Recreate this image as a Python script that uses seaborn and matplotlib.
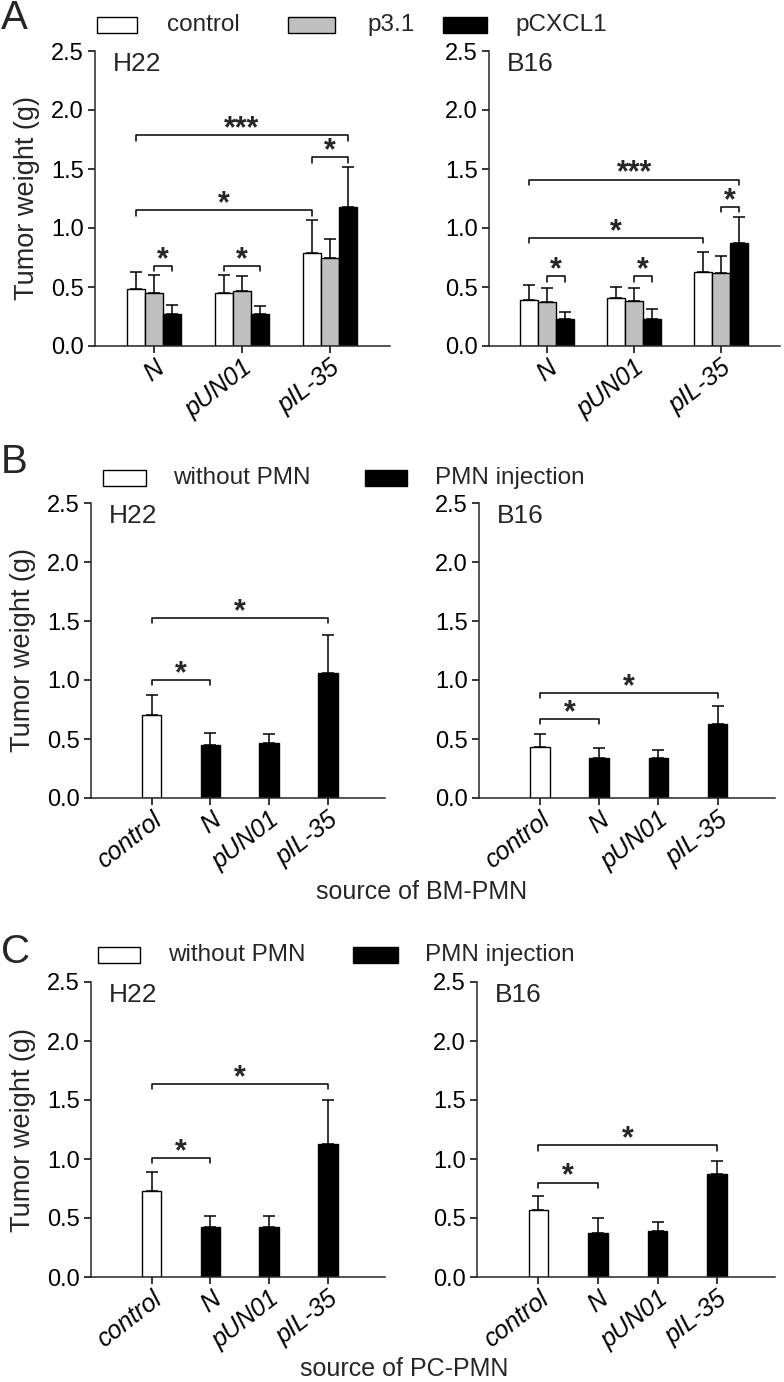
import matplotlib
matplotlib.use('Agg')
import matplotlib.pyplot as plt
from matplotlib.patches import Rectangle
import numpy as np
import pandas as pd
import seaborn as sns

# ---- data ----
a_groups = ['N', 'pUN01', 'pIL-35']
a_hues = ['control', 'p3.1', 'pCXCL1']
a_h22_mean = [[0.48, 0.45, 0.27], [0.45, 0.47, 0.27], [0.79, 0.75, 1.18]]
a_h22_err = [[0.15, 0.15, 0.08], [0.15, 0.12, 0.07], [0.28, 0.16, 0.34]]
a_b16_mean = [[0.39, 0.37, 0.23], [0.41, 0.38, 0.23], [0.63, 0.62, 0.87]]
a_b16_err = [[0.13, 0.12, 0.06], [0.09, 0.11, 0.08], [0.17, 0.14, 0.22]]

bc_groups = ['control', 'N', 'pUN01', 'pIL-35']
bc_conds = ['without PMN', 'PMN injection', 'PMN injection', 'PMN injection']
b_h22_mean = [0.70, 0.45, 0.47, 1.06]
b_h22_err = [0.17, 0.10, 0.075, 0.32]
b_b16_mean = [0.43, 0.34, 0.34, 0.63]
b_b16_err = [0.11, 0.08, 0.07, 0.15]
c_h22_mean = [0.73, 0.42, 0.42, 1.13]
c_h22_err = [0.16, 0.10, 0.10, 0.37]
c_b16_mean = [0.57, 0.37, 0.39, 0.87]
c_b16_err = [0.12, 0.13, 0.08, 0.115]

# significance brackets: (bar i, bar j, height, label)
a_h22_sig = [(0, 8, 1.785, '***'), (0, 6, 1.15, '*'), (6, 8, 1.60, '*'),
             (1, 2, 0.68, '*'), (3, 5, 0.68, '*')]
a_b16_sig = [(0, 8, 1.41, '***'), (0, 6, 0.915, '*'), (7, 8, 1.18, '*'),
             (1, 2, 0.59, '*'), (4, 5, 0.59, '*')]
b_h22_sig = [(0, 3, 1.525, '*'), (0, 1, 1.0, '*')]
b_b16_sig = [(0, 3, 0.89, '*'), (0, 1, 0.67, '*')]
c_h22_sig = [(0, 3, 1.635, '*'), (0, 1, 1.01, '*')]
c_b16_sig = [(0, 3, 1.115, '*'), (0, 1, 0.80, '*')]

sns.set_style('ticks')
plt.rcParams['font.family'] = ['Liberation Sans', 'DejaVu Sans']
plt.rcParams['axes.linewidth'] = 1.1

hue_colors = {'control': 'white', 'p3.1': '#c0c0c0', 'pCXCL1': 'black',
              'without PMN': 'white', 'PMN injection': 'black'}

W, H = 784, 1382
fig = plt.figure(figsize=(W / 100, H / 100), dpi=100)


def add_ax(left, right, zero_y):
    # pixel box -> figure fraction, 2.5 g spans 295 px
    return fig.add_axes([left / W, 1 - zero_y / H, (right - left) / W, 295 / H])


def style_ax(ax, label, ylabel):
    ax.set_ylim(0, 2.5)
    ax.set_yticks([0, 0.5, 1.0, 1.5, 2.0, 2.5])
    ax.set_yticklabels(['0.0', '0.5', '1.0', '1.5', '2.0', '2.5'])
    sns.despine(ax=ax)
    ax.tick_params(axis='both', direction='out', length=5, width=1.1,
                   labelsize=17, colors='black')
    ax.tick_params(axis='y', pad=3)
    ax.tick_params(axis='x', pad=2)
    for t in ax.get_xticklabels():
        t.set_rotation(38)
        t.set_ha('right')
        t.set_rotation_mode('anchor')
        t.set_fontstyle('italic')
        t.set_fontsize(18)
    ax.set_xlabel('')
    ax.set_ylabel('Tumor weight (g)' if ylabel else '', fontsize=19.5, labelpad=8)
    ax.text(0.06, 0.995, label, transform=ax.transAxes, fontsize=19,
            va='top', ha='left')


def bar_centers(ax):
    bars = sorted(ax.patches, key=lambda p: p.get_x())
    xs = [p.get_x() + p.get_width() / 2 for p in bars]
    ys = [p.get_height() for p in bars]
    return xs, ys


def draw_errs(ax, xs, ys, errs):
    ax.errorbar(xs, ys, yerr=[np.zeros(len(errs)), errs], fmt='none',
                ecolor='black', elinewidth=1.1, capsize=4.5, capthick=1.1, zorder=1)


def draw_sig(ax, xs, sig):
    for i, j, y, lab in sig:
        ax.plot([xs[i], xs[i], xs[j], xs[j]], [y - 0.045, y, y, y - 0.045],
                color='black', lw=1.1)
        ax.text((xs[i] + xs[j]) / 2, y + 0.05, lab, ha='center', va='center',
                fontsize=22, fontweight='bold')


def grouped_panel(ax, means, errs, sig, label, ylabel):
    df = pd.DataFrame([(g, h, means[gi][hi]) for gi, g in enumerate(a_groups)
                       for hi, h in enumerate(a_hues)],
                      columns=['group', 'cond', 'weight'])
    sns.barplot(data=df, x='group', y='weight', hue='cond', order=a_groups,
                hue_order=a_hues, palette=hue_colors, width=0.62, errorbar=None,
                edgecolor='black', linewidth=1.0, legend=False, ax=ax, zorder=2)
    xs, ys = bar_centers(ax)
    draw_errs(ax, xs, ys, np.ravel(errs))
    draw_sig(ax, xs, sig)
    ax.set_xlim(-0.67, 2.68)
    style_ax(ax, label, ylabel)


def single_panel(ax, means, errs, sig, label, ylabel):
    df = pd.DataFrame({'group': bc_groups, 'cond': bc_conds, 'weight': means})
    sns.barplot(data=df, x='group', y='weight', hue='cond', order=bc_groups,
                palette=hue_colors, dodge=False, width=0.33, errorbar=None,
                edgecolor='black', linewidth=1.0, legend=False, ax=ax, zorder=2)
    xs, ys = bar_centers(ax)
    draw_errs(ax, xs, ys, errs)
    draw_sig(ax, xs, sig)
    ax.set_xlim(-1.03, 3.97)
    style_ax(ax, label, ylabel)


ax1 = add_ax(95, 390, 346)
ax2 = add_ax(489, 780, 346)
ax3 = add_ax(91, 385, 798)
ax4 = add_ax(479, 775, 798)
ax5 = add_ax(91, 385, 1277)
ax6 = add_ax(477, 775, 1277)

grouped_panel(ax1, a_h22_mean, a_h22_err, a_h22_sig, 'H22', True)
grouped_panel(ax2, a_b16_mean, a_b16_err, a_b16_sig, 'B16', False)
single_panel(ax3, b_h22_mean, b_h22_err, b_h22_sig, 'H22', True)
single_panel(ax4, b_b16_mean, b_b16_err, b_b16_sig, 'B16', False)
single_panel(ax5, c_h22_mean, c_h22_err, c_h22_sig, 'H22', True)
single_panel(ax6, c_b16_mean, c_b16_err, c_b16_sig, 'B16', False)

fig.text(422 / W, 1 - 899 / H, 'source of BM-PMN', ha='center', va='baseline', fontsize=18)
fig.text(404 / W, 1 - 1376 / H, 'source of PC-PMN', ha='center', va='baseline', fontsize=18)

# panel letters
for letter, y in [('A', 18), ('B', 462), ('C', 952)]:
    fig.text(1 / W, 1 - y / H, letter, ha='left', va='center', fontsize=29)


def legend(labels, boxes, text_x, yc):
    # boxes: (left, right) in pixels, 16 px tall, centred on yc
    for lab, (x0, x1), tx in zip(labels, boxes, text_x):
        fig.add_artist(Rectangle((x0 / W, 1 - (yc + 8) / H), (x1 - x0) / W, 16 / H,
                                 transform=fig.transFigure, facecolor=hue_colors[lab],
                                 edgecolor='black', linewidth=1.0))
        fig.text(tx / W, 1 - yc / H, lab, ha='left', va='center', fontsize=17.5)


legend(a_hues, [(97, 137), (288, 335), (443, 487)], [167, 367, 515], 25)
legend(['without PMN', 'PMN injection'], [(103, 146), (365, 407)], [173, 435], 478)
legend(['without PMN', 'PMN injection'], [(98, 140), (353, 398)], [168, 425], 955)

fig.savefig('out.png', dpi=100)
